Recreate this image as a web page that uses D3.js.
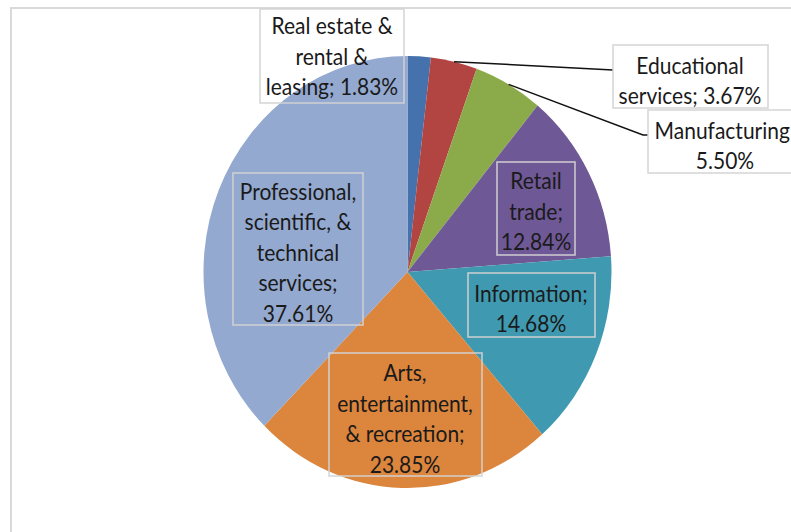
<!DOCTYPE html>
<html>
<head>
<meta charset="utf-8">
<script src="https://cdn.jsdelivr.net/npm/d3@7/dist/d3.min.js"></script>
<style>
  html, body { margin: 0; padding: 0; background: #fff; }
  svg { display: block; }
  text { font-family: Lato, "Open Sans", sans-serif; fill: #1a1a1a; }
</style>
</head>
<body>
<svg id="chart" width="791" height="532"></svg>
<script>
// Share of businesses by industry (percent)
const categories = [
  "Real estate & rental & leasing",
  "Educational services",
  "Manufacturing",
  "Retail trade",
  "Information",
  "Arts, entertainment, & recreation",
  "Professional, scientific, & technical services"
];
const shares = [1.83, 3.67, 5.50, 12.84, 14.68, 23.85, 37.61];
const sliceColors = ["#4571ad", "#b24442", "#8bab4b", "#6f5896", "#3f99b0", "#dc853d", "#94a9d0"];

// Label boxes: frame, text centre, words per wrapped line, optional leader line
const labelLayout = [
  { box: [260, 9, 144, 94],  cx: 332, cy: 57,  lines: [3, 2, 2] },
  { box: [613, 45, 155, 63], cx: 690, cy: 81,  lines: [1, 2], leader: [[613, 70]] },
  { box: [648, 110, 160, 63], cx: 725, cy: 146, lines: [1, 1], leader: [[643, 135], [648, 135]] },
  { box: [497, 162, 78, 93], cx: 536, cy: 212, lines: [1, 1, 1] },
  { box: [468, 273, 127, 64], cx: 531, cy: 309, lines: [1, 1] },
  { box: [329, 353, 153, 123], cx: 405, cy: 419, lines: [1, 1, 2, 1] },
  { box: [233, 173, 130, 152], cx: 298, cy: 253, lines: [1, 2, 1, 1, 1] }
];

const svg = d3.select("#chart");
const cx = 407.5, cy = 272, rx = 204, ry = 216;
const lineGap = 30.5;

// outer chart frame (runs off the right and bottom edges)
svg.append("rect")
  .attr("x", 11).attr("y", 8).attr("width", 900).attr("height", 700)
  .attr("fill", "#fff").attr("stroke", "#d9d9d9").attr("stroke-width", 2);

const pie = d3.pie().sort(null).value(d => d)
  .startAngle(0).endAngle(2 * Math.PI);
const arcs = pie(shares);
const arc = d3.arc().innerRadius(0).outerRadius(rx);

const pieG = svg.append("g")
  .attr("transform", `translate(${cx},${cy}) scale(1,${ry / rx})`);

pieG.selectAll("path")
  .data(arcs)
  .join("path")
  .attr("d", arc)
  .attr("fill", (d, i) => sliceColors[i]);

// leader lines from slice edges to outside labels
arcs.forEach((a, i) => {
  const lay = labelLayout[i];
  if (!lay.leader) return;
  const mid = (a.startAngle + a.endAngle) / 2;
  const start = [cx + rx * Math.sin(mid), cy - ry * Math.cos(mid)];
  svg.append("path")
    .attr("d", d3.line()([start, ...lay.leader]))
    .attr("fill", "none")
    .attr("stroke", "#111")
    .attr("stroke-width", 1.5);
});

// label boxes and wrapped text
const labelG = svg.append("g");
arcs.forEach((a, i) => {
  const lay = labelLayout[i];
  const [bx, by, bw, bh] = lay.box;
  labelG.append("rect")
    .attr("x", bx).attr("y", by).attr("width", bw).attr("height", bh)
    .attr("fill", "none")
    .attr("stroke", "#d4d4d4")
    .attr("stroke-opacity", 0.9)
    .attr("stroke-width", 1.6);

  const words = `${categories[i]}; ${shares[i].toFixed(2)}%`.split(" ");
  const lines = [];
  let k = 0;
  lay.lines.forEach(n => { lines.push(words.slice(k, k + n).join(" ")); k += n; });

  const t = labelG.append("text")
    .attr("text-anchor", "middle")
    .attr("font-size", 21)
    .attr("transform", `translate(${lay.cx},${lay.cy}) scale(1,1.06)`);
  const y0 = -((lines.length - 1) / 2) * lineGap / 1.06;
  lines.forEach((ln, j) => {
    t.append("tspan")
      .attr("x", 0)
      .attr("y", y0 + j * lineGap / 1.06)
      .attr("dy", "0.35em")
      .text(ln);
  });
});
</script>
</body>
</html>
